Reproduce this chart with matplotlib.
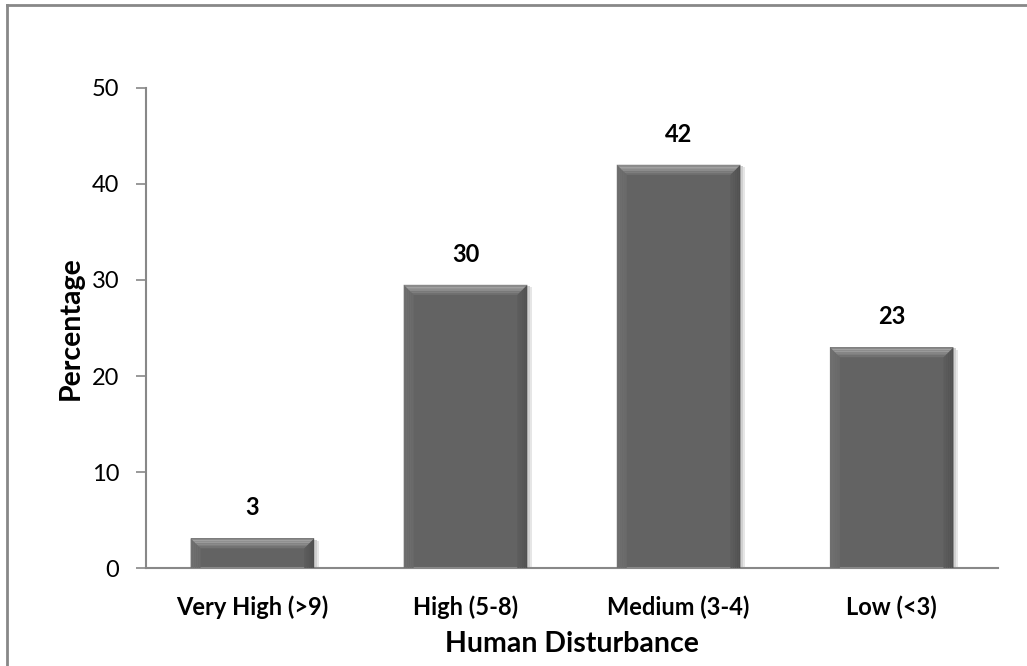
import matplotlib
matplotlib.use("Agg")
import matplotlib.pyplot as plt
from matplotlib.patches import Polygon, Rectangle
from matplotlib.lines import Line2D

categories = ["Very High (>9)", "High (5-8)", "Medium (3-4)", "Low (<3)"]
values = [3.1, 29.5, 42.0, 23.0]
labels = ["3", "30", "42", "23"]
yticks = [0, 10, 20, 30, 40, 50]

plt.rcParams['font.family'] = ['Lato', 'DejaVu Sans']

fig = plt.figure(figsize=(10.27, 6.66), dpi=100)
ax = fig.add_axes([0.142, 0.147, 0.830, 0.721])

width = 0.58
xs = list(range(len(categories)))
bars = ax.bar(xs, values, width=width, color="#636363", edgecolor="none", zorder=2)

ax.set_xlim(-0.5, len(categories) - 0.5)
ax.set_ylim(0, 50)
fig.canvas.draw()

# bevel sizes converted from pixels to data units
inv = ax.transData.inverted()
p0 = inv.transform((0, 0))
p1 = inv.transform((10, 10))
bx = p1[0] - p0[0]
by = p1[1] - p0[1]
sx = (p1[0] - p0[0]) * 0.25
sy = (p1[1] - p0[1]) * 0.25


def band(xa, xb, ya, yb, inset_a, inset_b, color, z=3):
    ax.add_patch(Polygon([(xa + inset_a, ya), (xb - inset_a, ya), (xb - inset_b, yb), (xa + inset_b, yb)],
                         closed=True, color=color, zorder=z, lw=0))


for b in bars:
    x0 = b.get_x(); w = b.get_width(); h = b.get_height()
    x1 = x0 + w
    # soft shadow
    ax.add_patch(Rectangle((x0 + sx * 2, -sy), w, h, color="#e6e6e6", zorder=1, lw=0))
    ax.add_patch(Rectangle((x0 + sx, -sy * 0.5), w, h, color="#d0d0d0", zorder=1, lw=0))
    # left and right bevels
    n = 5
    for i in range(n):
        f0 = i / n; f1 = (i + 1) / n
        cl = 0x70 - int(0x08 * f0)
        cr = 0x50 + int(0x10 * f0)
        ax.add_patch(Polygon([(x0 + bx * f0, h - by * f0), (x0 + bx * f1, h - by * f1),
                              (x0 + bx * f1, 0), (x0 + bx * f0, 0)],
                             closed=True, color="#%02x%02x%02x" % (cl, cl, cl), zorder=3, lw=0))
        ax.add_patch(Polygon([(x1 - bx * f0, h - by * f0), (x1 - bx * f1, h - by * f1),
                              (x1 - bx * f1, 0), (x1 - bx * f0, 0)],
                             closed=True, color="#%02x%02x%02x" % (cr, cr, cr), zorder=3, lw=0))
    # top bevel gradient
    tops = ["#8a8a8a", "#a0a0a0", "#9a9a9a", "#8c8c8c", "#7e7e7e", "#727272"]
    m = len(tops)
    for i, c in enumerate(tops):
        f0 = i / m; f1 = (i + 1) / m
        band(x0, x1, h - by * f0, h - by * f1, bx * f0, bx * f1, c, z=4)

for x, v, lab in zip(xs, values, labels):
    ax.text(x, v + 2.0, lab, ha="center", va="bottom", fontsize=17, fontweight="bold", color="black")

ax.set_xticks(xs)
ax.set_xticklabels(categories, fontsize=17, fontweight="bold")
ax.set_yticks(yticks)
ax.tick_params(axis="y", labelsize=17, length=7, width=1.2, color="#888888", direction="out", pad=12)
ax.tick_params(axis="x", length=0, pad=20)
for s in ["top", "right"]:
    ax.spines[s].set_visible(False)
for s in ["left", "bottom"]:
    ax.spines[s].set_color("#888888")
    ax.spines[s].set_linewidth(1.5)
ax.set_ylabel("Percentage", fontsize=20.5, fontweight="bold", labelpad=6)
ax.set_xlabel("Human Disturbance", fontsize=20.5, fontweight="bold", labelpad=8)

# outer chart border (top and left visible)
fig.add_artist(Line2D([7 / 1027, 1.0], [1 - 4.5 / 666, 1 - 4.5 / 666], transform=fig.transFigure, color="#888888", lw=2))
fig.add_artist(Line2D([7 / 1027, 7 / 1027], [0, 1 - 4.5 / 666], transform=fig.transFigure, color="#888888", lw=2))

fig.savefig("out.png", dpi=100, facecolor="white")
